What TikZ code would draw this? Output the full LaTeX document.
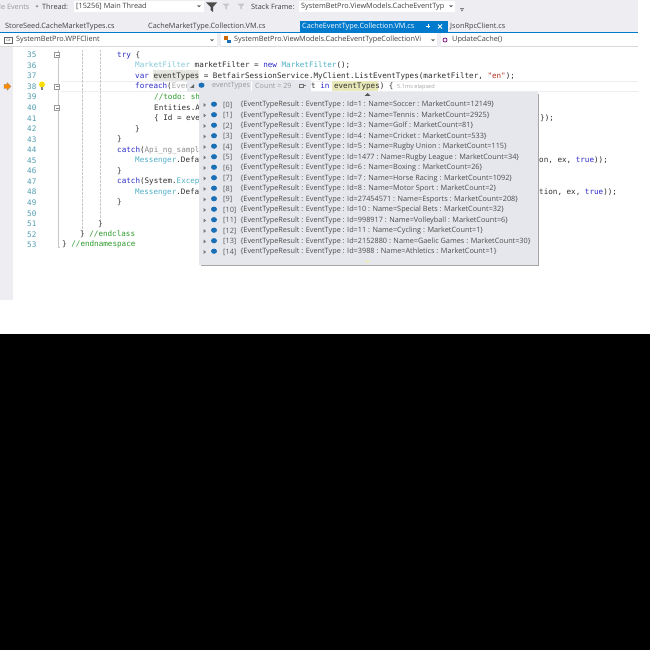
\documentclass[tikz,border=0pt]{standalone}
\usepackage{fontspec}
\setmainfont{Open Sans}
\setmonofont{DejaVu Sans Mono}
\definecolor{chrome}{HTML}{EEEEF2}
\definecolor{vsblue}{HTML}{007ACC}
\definecolor{tipbg}{HTML}{E6E7EC}
\definecolor{kw}{HTML}{2B2BC8}
\definecolor{typ}{HTML}{4FB0C8}
\definecolor{cmt}{HTML}{2E9B2E}
\definecolor{lnum}{HTML}{4F9CAF}
\definecolor{hl}{HTML}{E6E6E0}
\definecolor{hly}{HTML}{E8E8B8}
\definecolor{strc}{HTML}{B03020}
\definecolor{cod}{HTML}{303030}
\definecolor{guide}{HTML}{C8C8C8}
\definecolor{sym}{HTML}{1B6FB5}
\tikzset{x=1pt,y=-1pt,
  ui/.style={font=\fontsize{7.3}{8}\selectfont,anchor=west,inner sep=0pt,text=black!75},
  code/.style={font=\ttfamily\fontsize{7.6}{8}\selectfont,anchor=west,inner sep=0pt,text=cod},
  lnumber/.style={font=\ttfamily\fontsize{7.6}{8}\selectfont,anchor=west,inner sep=0pt,text=lnum},
  item/.style={font=\fontsize{7.3}{8}\selectfont,anchor=west,inner sep=0pt,text=black!70},
  idx/.style={font=\fontsize{7.3}{8}\selectfont,anchor=west,inner sep=0pt,text=black!65},
  fold/.style={draw=black!40,fill=white,line width=.3pt},
  guideline/.style={draw=guide,line width=.35pt,densely dotted},
  dropmark/.pic={\fill[black!60] (-1.8,-1) -- (1.8,-1) -- (0,1) -- cycle;},
  funnel/.pic={\fill (-5.5,-4.5) -- (5.5,-4.5) -- (1.5,0) -- (1.5,5) -- (-1,3) -- (-1,0) -- cycle;},
}
\newcommand{\K}[1]{\textcolor{kw}{#1}}
\newcommand{\T}[1]{\textcolor{typ}{#1}}
\newcommand{\C}[1]{\textcolor{cmt}{#1}}
\begin{document}
\begin{tikzpicture}
\useasboundingbox (0,0) rectangle (650,650);
\fill[white] (0,0) rectangle (650,650);
\fill[black] (0,334) rectangle (650,650);
% chrome
\fill[chrome] (0,0) rectangle (638,32);
\fill[chrome] (0,47) rectangle (13,300);
\fill[vsblue] (0,32) rectangle (638,33.3);
\fill[black!15] (0,46.5) rectangle (638,47.5);
\fill[chrome] (217,33.5) rectangle (221,47);
\fill[chrome] (437,33.5) rectangle (441,47);
% toolbar
\node[ui,text=black!40] (ev) at (-1,6.5) {le Events};
\pic[scale=.8] at (37,6.5) {dropmark};
\node[ui] (thr) at (42,6.5) {Thread:};
\fill[white] (74,1) rectangle (204,12);
\node[ui] (thv) at (76,6.5) {[15256] Main Thread};
\pic at (199,6.5) {dropmark};
\pic[black!70] at (211.5,7) {funnel};
\pic[black!22,scale=.65] at (226,6.5) {funnel};
\pic[black!22,scale=.65] at (241,6.5) {funnel};
\node[ui] (sf) at (251,6.5) {Stack Frame:};
\fill[white] (299,1) rectangle (455,12);
\node[ui] (sfv) at (301,6.5) {SystemBetPro.ViewModels.CacheEventTyp};
\pic at (451,6.5) {dropmark};
\draw[black!50,line width=.4pt] (460,8.5) -- (464,8.5);
\pic[scale=.8] at (462,10.5) {dropmark};
% tabs
\fill[vsblue] (300,21) rectangle (448,32);
\node[ui] (t1) at (5,26.5) {StoreSeed.CacheMarketTypes.cs};
\node[ui] (t2) at (148,26.5) {CacheMarketType.Collection.VM.cs};
\node[ui,text=white] (t3) at (302,26.5) {CacheEventType.Collection.VM.cs};
\draw[white,line width=.6pt] (425.5,26.5) -- (430,26.5) (428,24.5) -- (428,28.5);
\draw[white,line width=.8pt] (438,24.5) -- (442,28.5) (442,24.5) -- (438,28.5);
\node[ui] (t4) at (450,26.5) {JsonRpcClient.cs};
% nav bar
\node[draw=black!60,text=black!70,font=\fontsize{3.4}{3.4}\selectfont,minimum width=8pt,minimum height=6pt,inner sep=0pt] (cs) at (8.5,40) {C\#};
\node[ui] (n1) at (16,40) {SystemBetPro.WPFClient};
\pic at (212,40.5) {dropmark};
\fill[orange!80!black] (224,36.5) rectangle (228,40.5);
\fill[sym] (227,40) rectangle (231,43);
\node[ui] (n2) at (234,40) {SystemBetPro.ViewModels.CacheEventTypeCollectionVi};
\pic at (433,40.5) {dropmark};
\draw[violet,line width=.7pt] (445,40) circle (2pt);
\node[ui] (n3) at (452,40) {UpdateCache()};
% current line
\draw[chrome,line width=.6pt] (61,81) -- (638,81) (61,91.5) -- (638,91.5);
\fill[hl] (153,70.5) rectangle (199,81);
\fill[hly] (332,81.5) rectangle (378,91);
% line numbers
\foreach \n [count=\i from 0] in {35,...,53} {
  \node[lnumber] (ln\n) at (27,{55+\i*10.55}) {\n};
}
% folding and guides
\draw[guide,line width=.35pt] (58,50) -- (58,247) -- (60,247);
\draw[guideline] (82,50) -- (82,232);
\draw[guideline] (100,50) -- (100,222);
\foreach \y in {55,86.6,107.8}{
  \draw[fold] (54.5,\y-2.6) rectangle (59.5,\y+2.6);
  \draw[black!50,line width=.3pt] (55.5,\y) -- (58.5,\y);
}
% arrow and bulb
\fill[orange!90!yellow,draw=black!50,line width=.2pt] (4,84.5) -- (7,84.5) -- (7,82.5) -- (11,86.5) -- (7,90.5) -- (7,88.5) -- (4,88.5) -- cycle;
\fill[yellow!80!orange] (42,84.5) circle (3pt);
\fill[black!50] (40.8,87.5) rectangle (43.2,90);
% code
\node[code] (c35) at (117,55) {\K{try} \{};
\node[code] (c36) at (135,65.5) {\textcolor{typ!70}{MarketFilter} marketFilter = \K{new} \T{MarketFilter}();};
\node[code] (c37) at (135,76) {\K{var} eventTypes = BetfairSessionService.MyClient.ListEventTypes(marketFilter, \textcolor{strc}{"en"});};
\node[code] (c38) at (135,86.6) {\K{foreach}(\textcolor{black!35}{Even}};
\node[code] (c38b) at (311,86.6) {t \K{in} eventTypes) \{};
\node[ui,text=black!35,font=\fontsize{5.6}{6}\selectfont] (el) at (397,86.6) {5.1ms elapsed};
\node[code] (c39) at (154,97.2) {\C{//todo: sh}};
\node[code] (c40) at (154,107.8) {Entities.A};
\node[code] (c41) at (154,118.3) {\{ Id = eve};
\node[code] (c41b) at (540,118.3) {\});};
\node[code] (c42) at (135,128.9) {\}};
\node[code] (c43) at (117,139.4) {\}};
\node[code] (c44) at (117,150) {\K{catch}(\textcolor{black!45}{Api\_ng\_sampl}};
\node[code] (c45) at (135,160.5) {\T{Messenger}.Defa};
\node[code] (c45b) at (539,160.5) {on, ex, \K{true}));};
\node[code] (c46) at (117,171.1) {\}};
\node[code] (c47) at (117,181.6) {\K{catch}(System.\T{Excep}};
\node[code] (c48) at (135,192.2) {\T{Messenger}.Defa};
\node[code] (c48b) at (539,192.2) {tion, ex, \K{true}));};
\node[code] (c49) at (117,202.7) {\}};
\node[code] (c51) at (98,223.8) {\}};
\node[code] (c52) at (80,234.4) {\} \C{//endclass}};
\node[code] (c53) at (62,244.9) {\} \C{//endnamespace}};
% data tip header
\fill[tipbg] (187,80.5) rectangle (311,92);
\fill[black!60] (190,88) -- (194,84) -- (194,88) -- cycle;
\fill[sym] (201.5,85.2) ellipse (3pt and 2.6pt);
\node[ui,text=black!40,font=\fontsize{7.2}{8}\selectfont] (tipn) at (212,86.2) {eventTypes};
\draw[white,line width=.5pt] (251,81) -- (251,91);
\node[ui,text=black!40,font=\fontsize{7.2}{8}\selectfont] (tipc) at (255,86.2) {Count = 29};
\draw[black!55,line width=.6pt] (299,84) rectangle (303,87.5);
\draw[black!55,line width=.5pt] (303,85.7) -- (306,85.7);
% data tip panel
\fill[black!35] (201,94.5) rectangle (539,266);
\fill[tipbg] (199,92) rectangle (537.5,264.5);
\fill[black!65] (364.5,96) -- (367.5,93) -- (370.5,96) -- cycle;
\fill[yellow!25!tipbg] (364.5,260.5) -- (370.5,260.5) -- (367.5,263.5) -- cycle;
\foreach \i/\txt in {
0/Id=1 : Name=Soccer : MarketCount=12149,
1/Id=2 : Name=Tennis : MarketCount=2925,
2/Id=3 : Name=Golf : MarketCount=81,
3/Id=4 : Name=Cricket : MarketCount=533,
4/Id=5 : Name=Rugby Union : MarketCount=115,
5/Id=1477 : Name=Rugby League : MarketCount=34,
6/Id=6 : Name=Boxing : MarketCount=26,
7/Id=7 : Name=Horse Racing : MarketCount=1092,
8/Id=8 : Name=Motor Sport : MarketCount=2,
9/Id=27454571 : Name=Esports : MarketCount=208,
10/Id=10 : Name=Special Bets : MarketCount=32,
11/Id=998917 : Name=Volleyball : MarketCount=6,
12/Id=11 : Name=Cycling : MarketCount=1,
13/Id=2152880 : Name=Gaelic Games : MarketCount=30,
14/Id=3988 : Name=Athletics : MarketCount=1}{
  \pgfmathsetmacro{\yy}{105+\i*10.5}
  \fill[black!55] (203.5,\yy-2) -- (206,\yy) -- (203.5,\yy+2) -- cycle;
  \fill[sym] (214,\yy-.8) ellipse (3pt and 2.6pt);
  \node[idx] (ix\i) at (223,\yy) {[\i]};
  \node[item] (it\i) at (240.5,\yy) {\{EventTypeResult : EventType : \txt\}};
}
\end{tikzpicture}
\end{document}
